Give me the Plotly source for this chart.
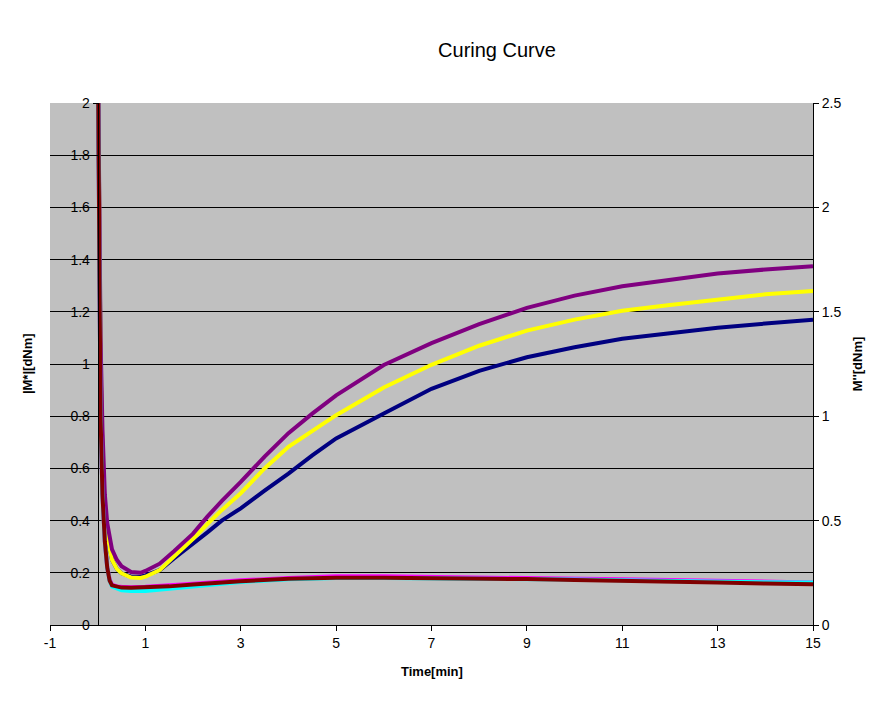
import plotly.graph_objects as go

# time [min] and |M*| [dNm] (left axis) for the three cure curves
t_upper = [0.0, 0.03, 0.06, 0.1, 0.15, 0.2, 0.3, 0.4, 0.5, 0.7, 0.9, 1.0, 1.3, 1.6, 2.0, 2.3,
           2.6, 3.0, 3.5, 4.0, 4.5, 5, 6, 7, 8, 9, 10, 11, 12, 13, 14, 15]
m_star_navy = [2.3, 1.5, 1.0, 0.65, 0.44, 0.34, 0.25, 0.215, 0.198, 0.185, 0.185, 0.19, 0.21, 0.255,
               0.31, 0.355, 0.40, 0.447, 0.515, 0.58, 0.65, 0.715, 0.81, 0.905, 0.974, 1.026, 1.064,
               1.097, 1.118, 1.139, 1.155, 1.17]
m_star_yellow = [2.3, 1.5, 1.0, 0.65, 0.44, 0.34, 0.25, 0.215, 0.198, 0.182, 0.18, 0.185, 0.21, 0.262,
                 0.33, 0.387, 0.44, 0.505, 0.6, 0.683, 0.745, 0.804, 0.91, 0.997, 1.07, 1.128, 1.17,
                 1.204, 1.226, 1.248, 1.267, 1.28]
m_star_purple = [2.3, 1.6, 1.1, 0.75, 0.5, 0.39, 0.29, 0.25, 0.225, 0.203, 0.2, 0.207, 0.235, 0.283,
                 0.35, 0.415, 0.475, 0.548, 0.645, 0.735, 0.81, 0.88, 0.996, 1.08, 1.153, 1.215, 1.262,
                 1.298, 1.324, 1.347, 1.362, 1.375]

# time [min] and M'' [dNm] (right axis)
t_lower = [0.0, 0.03, 0.06, 0.1, 0.15, 0.2, 0.25, 0.3, 0.4, 0.5, 0.7, 1.0, 1.5, 2.0, 2.5, 3,
           4, 5, 6, 7, 8, 9, 10, 11, 12, 13, 14, 15]
m2_magenta = [2.875, 1.625, 1.0, 0.625, 0.4, 0.275, 0.219, 0.194, 0.185, 0.183, 0.181, 0.183, 0.189,
              0.198, 0.206, 0.214, 0.225, 0.233, 0.233, 0.231, 0.229, 0.226, 0.223, 0.219, 0.215,
              0.211, 0.208, 0.204]
m2_cyan = [2.875, 1.625, 1.0, 0.625, 0.4, 0.275, 0.213, 0.185, 0.173, 0.166, 0.163, 0.163, 0.173,
           0.185, 0.196, 0.206, 0.219, 0.225, 0.225, 0.224, 0.223, 0.22, 0.218, 0.214, 0.21, 0.208,
           0.205, 0.203]
m2_darkred = [2.875, 1.625, 1.0, 0.625, 0.4, 0.275, 0.213, 0.19, 0.183, 0.179, 0.178, 0.179, 0.185,
              0.194, 0.203, 0.21, 0.221, 0.226, 0.226, 0.225, 0.223, 0.22, 0.216, 0.213, 0.208,
              0.204, 0.199, 0.195]

x_ticks = [-1, 1, 3, 5, 7, 9, 11, 13, 15]
x_tick_labels = ["-1", "1", "3", "5", "7", "9", "11", "13", "15"]
x_grid = [1, 3, 5, 7, 9, 11, 13, 15]

FONT = "Liberation Sans, Arial, sans-serif"
W, H = 871, 701  # page body adds an 8px margin

fig = go.Figure()
series = [
    (t_upper, m_star_navy, "#000080", "y"),
    (t_lower, m2_magenta, "#FF00FF", "y2"),
    (t_upper, m_star_yellow, "#FFFF00", "y"),
    (t_lower, m2_cyan, "#00FFFF", "y2"),
    (t_upper, m_star_purple, "#800080", "y"),
    (t_lower, m2_darkred, "#800000", "y2"),
]
for x, y, col, ax in series:
    fig.add_trace(go.Scatter(x=x, y=y, mode="lines", yaxis=ax,
                             line=dict(color=col, width=4), showlegend=False))

fig.update_layout(
    width=W, height=H,
    margin=dict(l=42, r=66, t=95, b=84),
    paper_bgcolor="white", plot_bgcolor="#C0C0C0",
    font=dict(family=FONT, size=14, color="black"),
    title=dict(text="Curing Curve", x=(497 - 8) / W, xref="container", xanchor="center",
               y=1 - (50 - 8) / H, yref="container", yanchor="middle",
               font=dict(size=20, color="black")),
    xaxis=dict(range=[-1, 15], tickvals=x_ticks, ticktext=x_tick_labels,
               showgrid=False, zeroline=False,
               showline=True, linecolor="black", linewidth=1,
               ticks="outside", ticklen=5, tickcolor="black"),
    xaxis2=dict(range=[-1, 15], overlaying="x", anchor="y", tickvals=x_grid,
                showgrid=True, gridcolor="black", gridwidth=1,
                showticklabels=False, ticks="", zeroline=False, showline=False),
    yaxis=dict(range=[0, 2], dtick=0.2, tick0=0, showgrid=True, gridcolor="black", gridwidth=1,
               zeroline=False, showline=True, linecolor="black", linewidth=1,
               anchor="free", position=1 / 16,
               ticks="outside", ticklen=5, tickcolor="black"),
    yaxis2=dict(range=[0, 2.5], dtick=0.5, tick0=0, overlaying="y", side="right", anchor="x",
                showgrid=False, zeroline=False, showline=True, linecolor="black", linewidth=1,
                ticks="outside", ticklen=5, tickcolor="black"),
    annotations=[
        dict(text="<b>Time[min]</b>", xref="paper", yref="paper", x=0.5, y=-0.09,
             xanchor="center", yanchor="middle", showarrow=False, font=dict(size=13)),
        dict(text="<b>|M*|[dNm]</b>", xref="paper", yref="paper", x=-0.030, y=0.5,
             xanchor="center", yanchor="middle", textangle=-90, showarrow=False,
             font=dict(size=13)),
        dict(text="<b>M''[dNm]</b>", xref="paper", yref="paper", x=1.058, y=0.5,
             xanchor="center", yanchor="middle", textangle=-90, showarrow=False,
             font=dict(size=13)),
    ],
)

fig.write_html("out.html")
